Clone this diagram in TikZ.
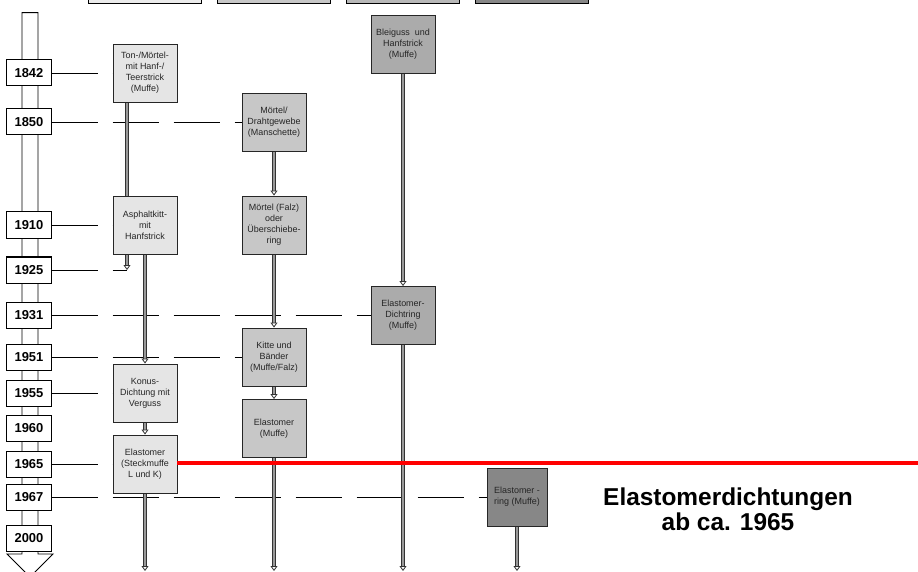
\documentclass[tikz,border=0pt]{standalone}
\usepackage{fontspec}
\setmainfont{Liberation Sans}
\usetikzlibrary{arrows.meta,backgrounds}

\tikzset{
  year/.style={draw=black, line width=1bp, fill=white, minimum width=44bp, minimum height=26bp, inner sep=0pt, font=\fontsize{13}{15}\selectfont\bfseries},
  joint/.style={draw=black!85, line width=0.9bp, minimum width=64bp, minimum height=58bp, inner sep=0pt, align=center, text=black!85, font=\fontsize{9}{11}\selectfont},
  legend/.style={draw=black, line width=1bp, minimum width=113bp, minimum height=40bp, inner sep=0pt},
  yearline/.style={draw=black, line width=0.7bp, dash pattern=on 46bp off 15bp},
  flow/.style={draw=black!80, line width=0.9bp, double=black!40, double distance=1.5bp, -{Triangle[open, width=7bp, length=5bp, line width=0.8bp]}},
  redline/.style={draw=red, line width=3.5bp},
}

\begin{document}
\begin{tikzpicture}[x=1bp, y=-1bp]
\useasboundingbox (0,0) rectangle (918,572);
\clip (0,0) rectangle (918,572);

\node[legend, fill=black!8] (leg1) at (144.5,-16) {};
\node[legend, fill=black!22] (leg2) at (273.5,-16) {};
\node[legend, fill=black!28] (leg3) at (402.5,-16) {};
\node[legend, fill=black!47] (leg4) at (531.5,-16) {};

\draw[line width=0.9bp, fill=white] (22,554) -- (22,12.7) -- (38,12.7) -- (38,554) -- (53,554) -- (30,577) -- (7,554) -- cycle;

\foreach \yr/\yy in {1842/73, 1850/122, 1910/225, 1925/270, 1931/315.5, 1951/357, 1955/393, 1960/428.5, 1965/464, 1967/497, 2000/538}
  \node[year] (y\yr) at (29,\yy) {\yr};

\coordinate (c1) at (145,0);
\coordinate (c1a) at (127,0);
\coordinate (c2) at (274,0);
\coordinate (c3) at (403,0);
\coordinate (c4) at (517,0);
\coordinate (bot) at (0,571);
\coordinate (right) at (918,0);

\node[joint, fill=black!10] (ton) at (c1 |- y1842) {Ton-/Mörtel-\\mit Hanf-/\\Teerstrick\\(Muffe)};
\node[joint, fill=black!10] (asph) at (c1 |- y1910) {Asphaltkitt-\\mit\\Hanfstrick};
\node[joint, fill=black!10] (konus) at (c1 |- y1955) {Konus-\\Dichtung mit\\Verguss};
\node[joint, fill=black!10] (steck) at (c1 |- y1965) {Elastomer\\(Steckmuffe\\L und K)};

\node[joint, fill=black!22] (draht) at (c2 |- y1850) {Mörtel/\\Drahtgewebe\\(Manschette)};
\node[joint, fill=black!22] (falz) at (c2 |- y1910) {Mörtel (Falz)\\oder\\Überschiebe-\\ring};
\node[joint, fill=black!22] (kitte) at (c2 |- y1951) {Kitte und\\Bänder\\(Muffe/Falz)};
\node[joint, fill=black!22] (elmuffe) at (c2 |- y1960) {Elastomer\\(Muffe)};

\node[joint, fill=black!33] (blei) at (403,44.5) {Bleiguss\ \ und\\Hanfstrick\\(Muffe)};
\node[joint, fill=black!33] (dicht) at (c3 |- y1931) {Elastomer-\\Dichtring\\(Muffe)};

\node[joint, fill=black!47, minimum width=60bp] (ering) at (c4 |- y1967) {Elastomer -\\ring (Muffe)};

\begin{scope}[on background layer]
\draw[yearline] (y1842.east) -- (ton.west);
\draw[yearline] (y1850.east) -- (draht.west);
\draw[yearline] (y1910.east) -- (asph.west);
\draw[yearline] (y1925.east) -- (c1a |- y1925);
\draw[yearline] (y1931.east) -- (dicht.west);
\draw[yearline] (y1951.east) -- (kitte.west);
\draw[yearline] (y1955.east) -- (konus.west);
\draw[yearline] (y1965.east) -- (steck.west);
\draw[yearline] (y1967.east) -- (ering.west);

\draw[flow] (c1a |- ton.south) -- (c1a |- y1925);
\draw[flow] (asph.south) -- (konus.north);
\draw[flow] (konus.south) -- (steck.north);
\draw[flow] (steck.south) -- (c1 |- bot);
\draw[flow] (draht.south) -- (falz.north);
\draw[flow] (falz.south) -- (kitte.north);
\draw[flow] (kitte.south) -- (elmuffe.north);
\draw[flow] (elmuffe.south) -- (c2 |- bot);
\draw[flow] (blei.south) -- (dicht.north);
\draw[flow] (dicht.south) -- (c3 |- bot);
\draw[flow] (ering.south) -- (c4 |- bot);
\end{scope}

\draw[redline] (steck.east |- 0,463) -- (right |- 0,463);

\node[font=\fontsize{24.5}{25}\selectfont\bfseries, align=center, inner sep=0pt] (note) at (728,509.5) {Elastomerdichtungen\\ab ca. 1965};
\end{tikzpicture}
\end{document}
